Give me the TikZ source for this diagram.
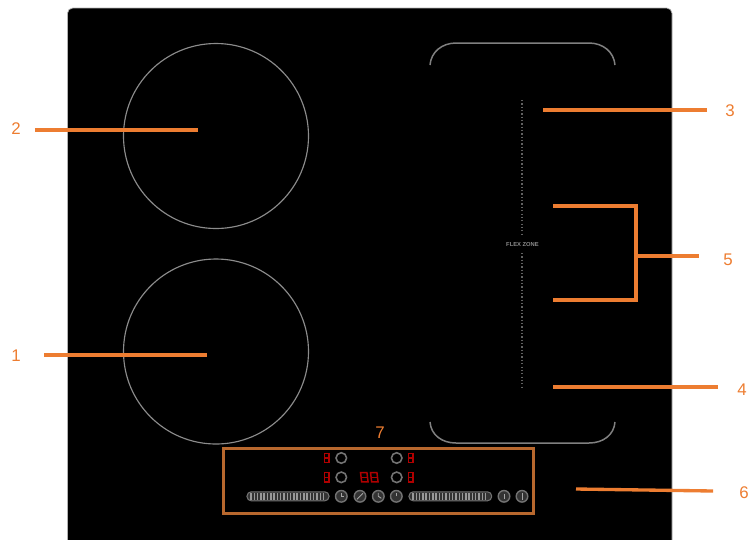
\documentclass[tikz,border=0pt]{standalone}
\usepackage{fontspec}
\setmainfont{Liberation Sans}
\usetikzlibrary{calc}
\definecolor{leadorange}{HTML}{ED7D31}
\definecolor{boxorange}{HTML}{B8682E}
\definecolor{zonegray}{HTML}{8C8C8C}
\definecolor{segred}{HTML}{B00000}
\tikzset{
    zoneline/.style={zonegray, line width=0.65pt},
    flexline/.style={black!50, line width=0.85pt},
    dotline/.style={black!62, line width=1pt, dash pattern=on 0.7pt off 1.2pt},
    leader/.style={leadorange, line width=1.9pt},
    callout/.style={text=leadorange, font=\fontsize{9.6}{11}\selectfont, inner ysep=0pt},
    knob/.style={circle, draw=black!55, line width=0.9pt, minimum size=6pt, inner sep=0pt},
    keycap/.style={circle, draw=black!55, fill=black!80, line width=0.8pt, minimum size=6.6pt, inner sep=0pt},
    slider/.style={draw=black!55, rounded corners=2.4pt, line width=0.6pt},
    glyph/.style={black!35, line width=0.5pt}
}
% one red seven segment figure, #1 = centre, #2 = half width, #3 = slant
\newcommand{\segdigit}[3]{
    \begin{scope}[shift={#1}, xslant=#3]
        \draw[segred, line width=0.85pt] (-#2,-4.6) rectangle (#2,4.6);
        \draw[segred, line width=0.85pt] (-#2,0) -- (#2,0);
    \end{scope}
}
\begin{document}
\begin{tikzpicture}[x=0.02cm, y=-0.02cm]
    \useasboundingbox (0,0) rectangle (748,539);

    % 1. Mặt bếp
    \fill[black, draw=gray!60, line width=0.4pt, rounded corners=3pt] (67.5,8) -- (672,8) -- (672,545) -- (67.5,545) -- cycle;

    % 2. Hai vùng nấu tròn
    \draw[zoneline] (216,136) circle (92.5);
    \draw[zoneline] (216,351.5) circle (92.5);

    % 3. Vùng flex
    \draw[flexline] (430,65) .. controls (431,52) and (442,43) .. (456,43) -- (589,43) .. controls (603,43) and (614,52) .. (615,65);
    \draw[flexline] (430,422) .. controls (431,435) and (442,443) .. (456,443) -- (589,443) .. controls (603,443) and (614,435) .. (615,422);
    \draw[dotline] (522,100) -- (522,234);
    \draw[dotline] (522,253) -- (522,387);
    \node[text=black!45, font=\fontsize{3.3}{4}\selectfont\bfseries, inner sep=0pt] (flexlabel) at (522.5,244) {FLEX ZONE};

    % 4. Bảng điều khiển
    \node[draw=boxorange, line width=1.7pt, minimum width=176.3pt, minimum height=37pt, inner sep=0pt, outer sep=0pt, anchor=north west] (panel) at (223.5,448.5) {};
    \segdigit{(326.7,458)}{2.2}{0}
    \segdigit{(326.7,477.3)}{2.2}{0}
    \segdigit{(410.7,458)}{2.2}{0}
    \segdigit{(410.7,477.3)}{2.2}{0}
    \segdigit{(364.3,477.3)}{3.2}{-0.12}
    \segdigit{(374.3,477.3)}{3.2}{-0.12}
    \node[knob] (knobA) at (341.3,458) {};
    \node[knob] (knobB) at (341.3,477.3) {};
    \node[knob] (knobC) at (396.7,458) {};
    \node[knob] (knobD) at (396.7,477.3) {};

    % 5. Thanh trượt và phím
    \draw[slider, fill=black!80] (247,491.8) rectangle (329,500.8);
    \draw[slider, fill=black!80] (409,491.8) rectangle (491.7,500.8);
    \foreach \i in {0,...,22} {
        \draw[black!40, line width=0.8pt] (251+3.3*\i,493) -- (251+3.3*\i,499.6);
        \draw[black!40, line width=0.8pt] (413+3.3*\i,493) -- (413+3.3*\i,499.6);
    }
    \foreach \name/\xpos in {keyA/341.3, keyB/360, keyC/378.3, keyD/396.3, keyE/504, keyF/522} {
        \node[keycap] (\name) at (\xpos,496.3) {};
    }
    \draw[glyph] (keyA.center) -- ++(0,-3) (keyA.center) -- ++(2.5,0);
    \draw[glyph] ($(keyB.center)+(-3,3)$) -- ($(keyB.center)+(3,-3)$);
    \draw[glyph] (keyC.center) -- ++(0,-3.4) (keyC.center) -- ++(3,2);
    \draw[glyph] (keyD.center) -- ++(0,-3);
    \draw[glyph] (keyE.center) ++(0,-2.5) -- ++(0,5);
    \draw[glyph] (keyF.center) ++(0,-3.5) -- ++(0,7);

    % 6. Nhãn số và đường chỉ
    \node[callout, inner xsep=14pt*0.567] (lab2) at (16,129) {2};
    \node[callout, inner xsep=23.5pt*0.567] (lab1) at (16,356) {1};
    \node[callout, inner xsep=18pt*0.567] (lab3) at (730,111) {3};
    \node[callout, inner xsep=19pt*0.567] (lab4) at (742,390) {4};
    \node[callout, inner xsep=24pt*0.567] (lab5) at (728,260) {5};
    \node[callout, inner xsep=26pt*0.567] (lab6) at (744,493) {6};
    \node[callout, inner sep=0pt] (lab7) at (380,433) {7};

    \coordinate (tip1) at (207,355);
    \coordinate (tip2) at (198,130);
    \coordinate (tip3) at (543,110);
    \coordinate (tip4) at (553,387);
    \coordinate (tip6) at (576,489);
    \coordinate (tip5a) at (553,206);
    \coordinate (tip5b) at (553,300);
    \coordinate (fork5) at (636,256);

    \draw[leader] (lab1.east |- tip1) -- (tip1);
    \draw[leader] (lab2.east |- tip2) -- (tip2);
    \draw[leader] (lab3.west |- tip3) -- (tip3);
    \draw[leader] (lab4.west |- tip4) -- (tip4);
    \draw[leader] ($(lab6.west)+(0,-2)$) -- (tip6);
    \draw[leader, line width=2.8pt] (lab5.west |- fork5) -- (fork5);
    \draw[leader] (tip5a) -| (fork5) |- (tip5b);
\end{tikzpicture}
\end{document}
